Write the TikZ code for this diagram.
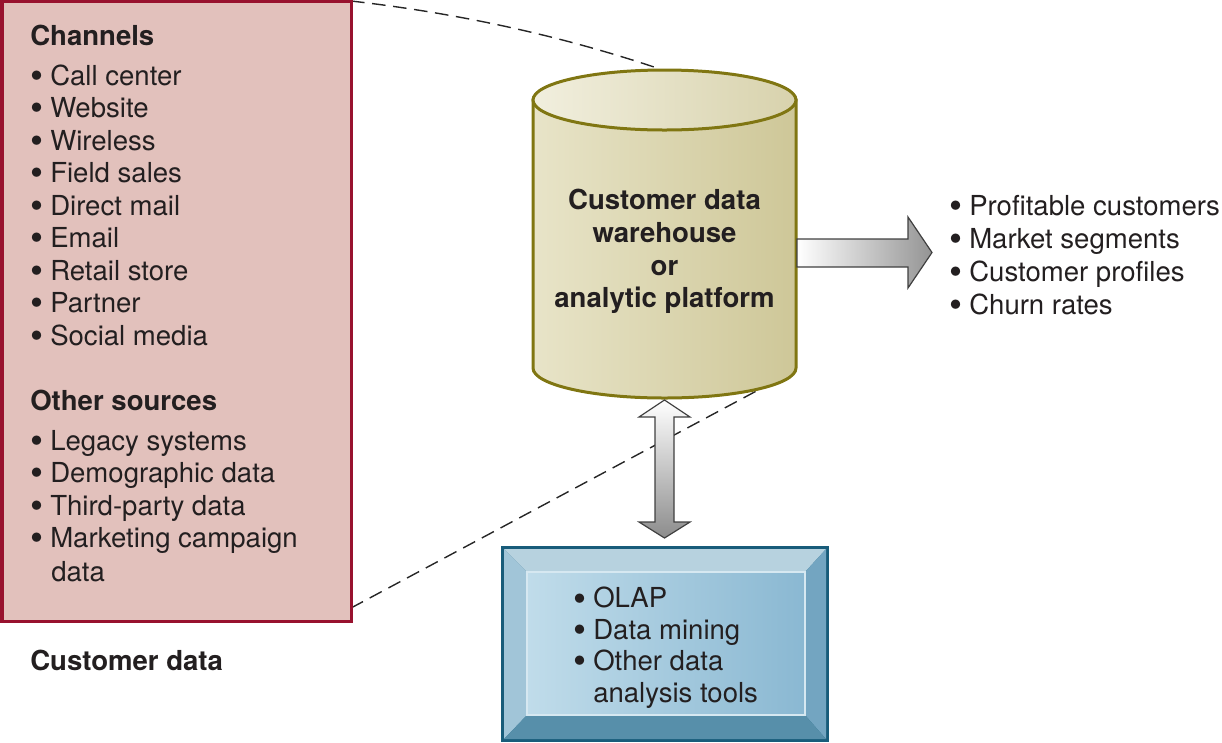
\documentclass[tikz,border=0pt]{standalone}
\usepackage{fontspec}
\setmainfont{TeX Gyre Heros}
\usetikzlibrary{calc}

\definecolor{ink}{RGB}{35,31,32}
\definecolor{srcfill}{RGB}{226,193,188}
\definecolor{srcline}{RGB}{152,18,46}
\definecolor{cylline}{RGB}{128,118,18}
\definecolor{cylleft}{RGB}{232,228,200}
\definecolor{cylright}{RGB}{206,199,152}
\definecolor{toolline}{RGB}{24,92,122}
\definecolor{faceleft}{RGB}{192,220,234}
\definecolor{faceright}{RGB}{138,184,210}

\newcommand{\bul}{\makebox[5mm][l]{\raisebox{-2.3pt}[0pt][0pt]{\scalebox{1.35}{\textbullet}}}}

\tikzset{
  txt/.style={anchor=base west, inner sep=0pt, text=ink,
    font=\fontsize{19.6}{23}\selectfont},
  head/.style={txt, font=\fontsize{19.6}{23}\selectfont\bfseries},
  mid/.style={head, anchor=base},
  blockarrow/.style={draw=black!75, line width=0.3mm, line join=miter},
  guide/.style={dashed, dash pattern=on 3.4mm off 1.9mm, line width=0.35mm, black!85}
}

\begin{document}
\begin{tikzpicture}[x=0.25mm, y=-0.25mm]
  \useasboundingbox (0,0) rectangle (1222,742);

  % Key points
  \coordinate (srcNE) at (351,1);
  \coordinate (srcSE) at (351,608);
  \coordinate (cylTop) at (660,69);
  \coordinate (cylLow) at (762,388);

  % Dashed guide lines (behind everything)
  \draw[guide] (srcNE) .. controls (456,13) and (559,35) .. (cylTop);
  \draw[guide] (srcSE) -- (cylLow);

  % Customer data box
  \draw[srcline, fill=srcfill, line width=0.75mm] (2,1) rectangle (351,621);
  \node[head] (chan) at (30,45) {Channels};
  \foreach \t [count=\i] in {Call center, Website, Wireless, Field sales,
      Direct mail, Email, Retail store, Partner, Social media}
    \node[txt] (ch\i) at (30, 52.5+32.5*\i) {\bul\t};
  \node[head] (other) at (30,410) {Other sources};
  \foreach \t [count=\i] in {Legacy systems, Demographic data,
      Third-party data, Marketing campaign}
    \node[txt] (os\i) at (30, 417.5+32.5*\i) {\bul\t};
  \node[txt] (os5) at (51,581) {data};
  \node[head] (custdata) at (30,670) {Customer data};

  % Warehouse cylinder
  \coordinate (cyl) at (664.5,100);
  \shade[left color=cylleft, right color=cylright, draw=cylline, line width=0.75mm]
    (533,100) -- (533,368) arc[start angle=180, end angle=0, x radius=131.5, y radius=30]
    -- (796,100) -- cycle;
  \shade[left color=cylleft!60!white, right color=cylright!80!white, draw=cylline, line width=0.75mm]
    (cyl) ellipse [x radius=131.5, y radius=30];
  \node[mid] (w1) at (664.5,209) {Customer data};
  \node[mid] (w2) at (664.5,242) {warehouse};
  \node[mid] (w3) at (664.5,275) {or};
  \node[mid] (w4) at (664.5,307.5) {analytic platform};

  % Output arrow
  \shade[blockarrow, left color=white, right color=black!42]
    (797,239) -- (908,239) -- (908,217) -- (932,252.5) -- (908,288)
    -- (908,267) -- (797,267) -- cycle;
  \foreach \t [count=\i] in {Profitable customers, Market segments,
      Customer profiles, Churn rates}
    \node[txt] (res\i) at (949, 182+33*\i) {\bul\t};

  % Two-way arrow
  \shade[blockarrow, top color=white, bottom color=black!45]
    (664.5,400) -- (690,417) -- (674,417) -- (674,522) -- (690,522) -- (664.5,538)
    -- (639,522) -- (655,522) -- (655,417) -- (639,417) -- cycle;

  % Analysis tools box
  \fill[toolline] (501,546) rectangle (829,742);
  \fill[white!30!faceleft!85!toolline] (504,549) -- (826,549) -- (805,572) -- (527,572) -- cycle;
  \fill[faceleft!70!faceright!90!toolline] (504,549) -- (527,572) -- (527,715) -- (504,739) -- cycle;
  \fill[faceright!80!toolline] (826,549) -- (826,739) -- (805,715) -- (805,572) -- cycle;
  \fill[faceright!55!toolline] (504,739) -- (527,715) -- (805,715) -- (826,739) -- cycle;
  \shade[left color=faceleft, right color=faceright, draw=white!35!faceleft, line width=0.3mm]
    (527,572) rectangle (805,715);
  \foreach \t [count=\i] in {OLAP, Data mining, Other data}
    \node[txt] (tool\i) at (573, 576.5+31.3*\i) {\bul\t};
  \node[txt] (tool4) at (593,702) {analysis tools};
\end{tikzpicture}
\end{document}
